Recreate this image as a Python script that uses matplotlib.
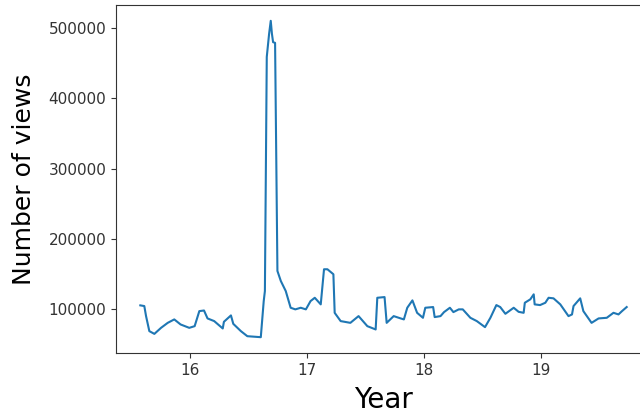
import numpy as np
import matplotlib
matplotlib.use("Agg")
import matplotlib.pyplot as plt

# year (two-digit, fractional) vs. views
years = [15.576, 15.61, 15.625, 15.653, 15.696, 15.753, 15.81, 15.866, 15.92, 15.994,
         16.04, 16.08, 16.12, 16.15, 16.207, 16.28, 16.29, 16.35, 16.37, 16.435,
         16.49, 16.605, 16.63, 16.64, 16.656, 16.676, 16.69, 16.70, 16.71, 16.727,
         16.747, 16.776, 16.818, 16.86, 16.90, 16.946, 16.99, 17.03, 17.066, 17.117,
         17.145, 17.174, 17.225, 17.236, 17.287, 17.37, 17.44, 17.515, 17.586, 17.60,
         17.662, 17.68, 17.74, 17.80, 17.827, 17.856, 17.90, 17.94, 17.99, 18.01,
         18.077, 18.09, 18.14, 18.17, 18.22, 18.25, 18.296, 18.33, 18.395, 18.45,
         18.52, 18.566, 18.617, 18.65, 18.694, 18.765, 18.807, 18.85, 18.86, 18.907,
         18.936, 18.944, 18.99, 19.035, 19.063, 19.105, 19.163, 19.233, 19.263, 19.276,
         19.333, 19.36, 19.43, 19.49, 19.56, 19.617, 19.66, 19.69, 19.73]
views = [105300, 104300, 90000, 68600, 64700, 73300, 80400, 85300, 78100, 73300,
         75700, 97100, 98000, 86700, 82900, 72400, 81900, 91000, 79000, 68600,
         61400, 60000, 111400, 125700, 459000, 492000, 510400, 492000, 480000, 479000,
         154300, 140000, 125700, 101900, 99600, 101900, 99600, 111400, 116100, 106700,
         156700, 156700, 149600, 94700, 82900, 80400, 90000, 75700, 71000, 116100,
         117100, 80400, 90000, 86700, 85300, 101900, 112400, 94700, 87600, 101900,
         102900, 88600, 90000, 95700, 101900, 95700, 99600, 99600, 87600, 82900,
         74300, 87600, 105700, 102900, 93300, 101900, 96100, 94700, 109000, 113900,
         121000, 106700, 105700, 109000, 116100, 115300, 106700, 90000, 92400, 104300,
         115300, 97100, 80400, 86700, 87600, 94700, 92400, 97100, 102900]

fig = plt.figure(figsize=(6.4, 4.13), dpi=100)
# axes run past the right edge, like the cropped original
ax = fig.add_axes([116 / 640, 60 / 413, 535 / 640, 348 / 413])
ax.plot(years, views, color="#1f77b4", linewidth=1.5)
ax.set_xticks([16, 17, 18, 19])
ax.set_yticks([100000, 200000, 300000, 400000, 500000])
ax.tick_params(labelsize=11, colors="#333333")
for s in ax.spines.values():
    s.set_color("#333333")
ax.set_xlabel("Year", fontsize=20, labelpad=6)
ax.set_ylabel("Number of views", fontsize=18, labelpad=9)
fig.savefig("out.png", dpi=100)
